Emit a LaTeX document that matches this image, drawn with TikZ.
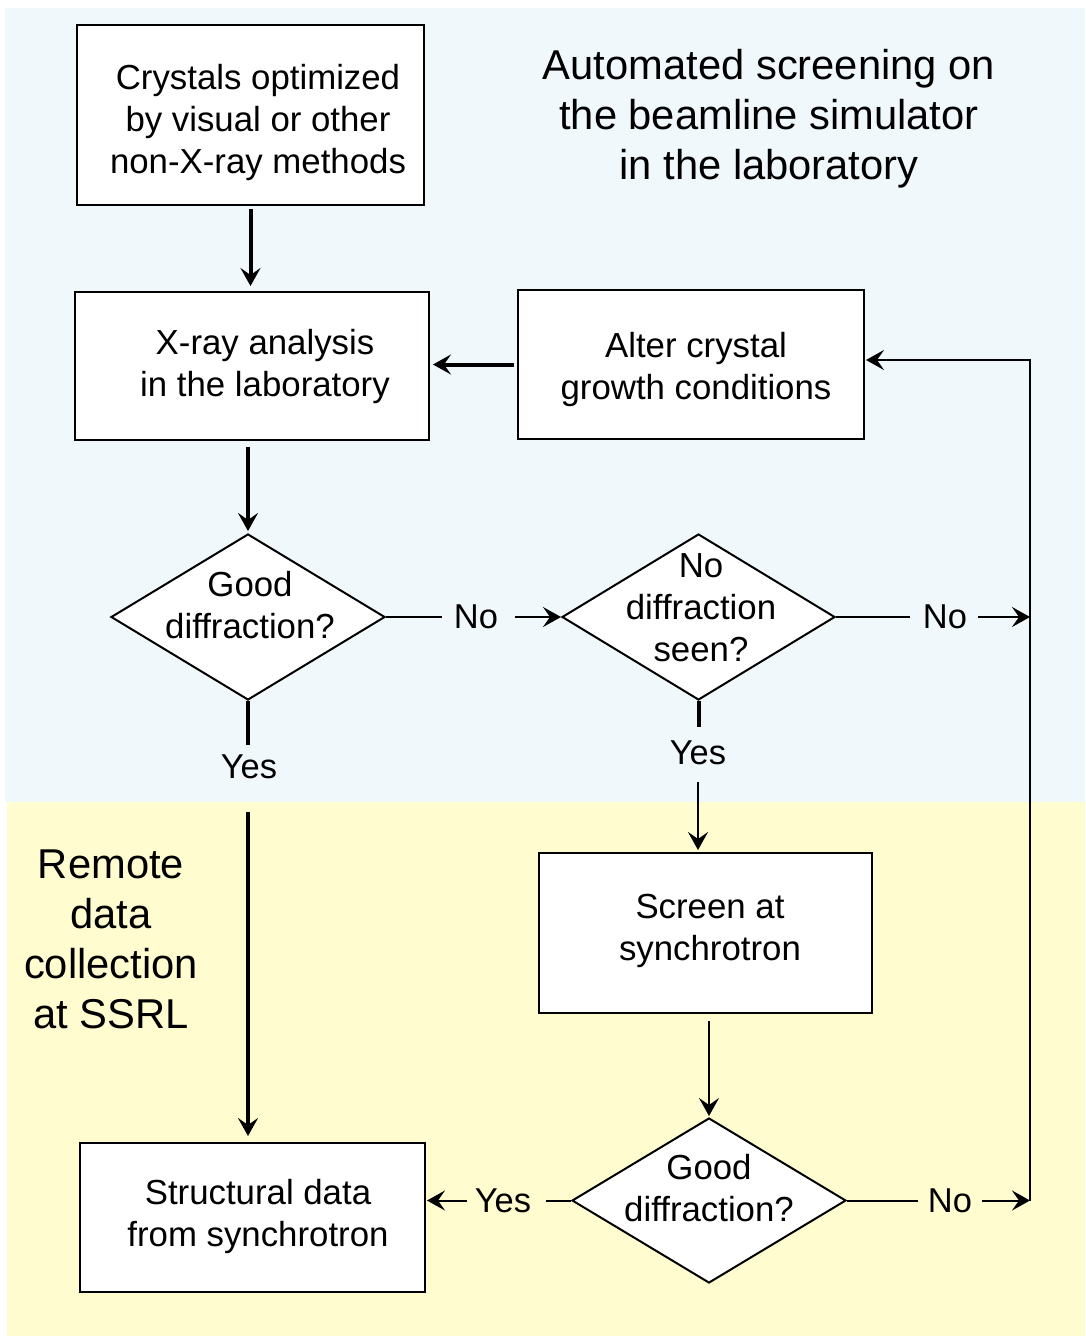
\documentclass[tikz,border=0pt]{standalone}
\usepackage{fontspec}
\setmainfont{Liberation Sans}
\usetikzlibrary{arrows.meta,shapes.geometric}
\definecolor{bgblue}{RGB}{240,248,251}
\definecolor{bgyellow}{RGB}{255,252,208}
\begin{document}
\begin{tikzpicture}[x=1pt,y=-1pt,
  box/.style={draw,line width=2pt,fill=white,inner sep=0pt},
  dia/.style={draw,line width=2pt,fill=white,shape=diamond,inner sep=0pt},
  txt/.style={align=center,inner sep=0pt,font=\fontsize{34.8}{42}\selectfont},
  big/.style={align=center,inner sep=0pt,font=\fontsize{41.7}{50}\selectfont},
  lab/.style={inner sep=0pt,font=\fontsize{34.5}{42}\selectfont},
  thinln/.style={line width=2pt},
  thickln/.style={line width=4pt},
  tip/.style={-{Stealth[length=18pt,width=20pt,inset=7pt]}}
]
\useasboundingbox (0,0) rectangle (1085,1336);
\fill[bgblue] (5,8) rectangle (1085,802);
\fill[bgyellow] (7,802) rectangle (1085,1336);

% boxes
\node[box,minimum width=347pt,minimum height=180pt] (b1) at (250.5,115) {};
\node[box,minimum width=354pt,minimum height=148pt] (b2) at (252,366) {};
\node[box,minimum width=346pt,minimum height=149pt] (b3) at (691,364.5) {};
\node[box,minimum width=333pt,minimum height=160pt] (b4) at (705.5,933) {};
\node[box,minimum width=345pt,minimum height=149pt] (b5) at (252.5,1217.5) {};

% diamonds
\node[dia,minimum width=274pt,minimum height=166pt] (d1) at (248,617) {};
\node[dia,minimum width=273pt,minimum height=166pt] (d2) at (698.5,617) {};
\node[dia,minimum width=274pt,minimum height=165pt] (d3) at (709,1200.5) {};

% texts
\node[txt] (b1t) at (258,122) {Crystals optimized\\by visual or other\\non-X-ray methods};
\node[txt] (b2t) at (265,366.5) {X-ray analysis\\in the laboratory};
\node[txt] (b3t) at (696,369) {Alter crystal\\growth conditions};
\node[txt] (b4t) at (710,931) {Screen at\\synchrotron};
\node[txt] (b5t) at (258,1216) {Structural data\\from synchrotron};
\node[txt] (d1t) at (250,605) {Good\\diffraction?};
\node[txt] (d2t) at (701,608) {No\\diffraction\\seen?};
\node[txt] (d3t) at (709,1188) {Good\\diffraction?};
\node[big] (title) at (769,119) {Automated screening on\\the beamline simulator\\in the laboratory};
\node[big] (remote) at (111,939) {Remote\\data\\collection\\at SSRL};

% labels
\node[lab] (no1) at (476,617) {No};
\node[lab] (no2) at (945,617) {No};
\node[lab] (no3) at (950,1200.5) {No};
\node[lab] (yes3) at (503,1200.5) {Yes};
\node[lab] (yes1) at (249,767) {Yes};
\node[lab] (yes2) at (698,753) {Yes};

\coordinate (r2) at (1030,617);
\coordinate (r3) at (1030,1200.5);

% connectors
\draw[thickln,tip,shorten <=3pt,shorten >=5pt] (b1.south) -- (b1.south |- b2.north);
\draw[thickln,tip,shorten <=3pt,shorten >=3pt] (b3.west) -- (b3.west -| b2.east);
\draw[thickln,tip,shorten <=6pt,shorten >=2pt] (d1.north |- b2.south) -- (d1.north);

\draw[thinln,shorten >=12pt] (d1.east) -- (d1.east -| no1.west);
\draw[thinln,tip,shorten <=17pt] (no1.east) -- (d2.west);
\draw[thinln,shorten >=13pt] (d2.east) -- (d2.east -| no2.west);
\draw[thinln,tip,shorten <=11pt] (no2.east) -- (r2);

\draw[thickln,shorten >=10pt] (d1.south) -- (d1.south |- yes1.north);
\draw[thickln,tip,shorten <=33pt,shorten >=6pt] (d1.south |- yes1.south) -- (d1.south |- b5.north);

\draw[thickln,shorten >=14pt] (d2.south) -- (d2.south |- yes2.north);
\draw[thinln,tip,shorten <=17pt,shorten >=2pt] (yes2.south) -- (yes2.south |- b4.north);

\draw[thinln,tip,shorten <=7pt,shorten >=1pt] (b4.south -| d3.north) -- (d3.north);

\draw[thinln,shorten >=10pt] (d3.east) -- (d3.east -| no3.west);
\draw[thinln,tip,shorten <=10pt] (no3.east) -- (r3);
\draw[thinln,shorten >=15pt] (d3.west) -- (d3.west -| yes3.east);
\draw[thinln,tip,shorten <=8pt,shorten >=1pt] (yes3.west) -- (yes3.west -| b5.east);

\draw[thinln,tip,shorten >=1pt] (r3) |- ([yshift=4.5pt]b3.east);
\end{tikzpicture}
\end{document}
